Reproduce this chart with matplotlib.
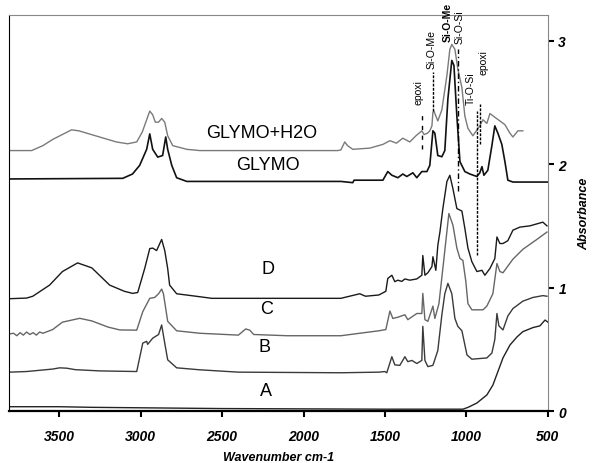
import matplotlib
matplotlib.use('Agg')
import matplotlib.pyplot as plt

plt.rcParams['font.family'] = ['Liberation Sans', 'DejaVu Sans']

# Espectro GLYMO+H2O (numero de onda, absorbancia)
glymo_h2o_x = [3804, 3669, 3600, 3540, 3424, 3380, 3252, 3150, 3080, 3024, 2990, 2944, 2926, 2910,
               2890, 2871, 2852, 2834, 2803, 2717, 2637, 1790, 1771, 1747, 1730, 1698, 1593, 1513,
               1470, 1430, 1391, 1348, 1310, 1274, 1260, 1240, 1225, 1212, 1206, 1200, 1176, 1151,
               1120, 1102, 1090, 1071, 1053, 1028, 1010, 991, 961, 918, 899, 875, 856, 826, 795,
               764, 733, 715, 684, 654]
glymo_h2o_y = [2.11, 2.11, 2.15, 2.20, 2.278, 2.27, 2.22, 2.18, 2.165, 2.18, 2.26, 2.43, 2.40, 2.34,
               2.34, 2.37, 2.34, 2.23, 2.15, 2.12, 2.11, 2.11, 2.115, 2.18, 2.15, 2.12, 2.13, 2.16,
               2.19, 2.17, 2.21, 2.18, 2.23, 2.27, 2.24, 2.25, 2.27, 2.31, 2.42, 2.43, 2.35, 2.44,
               2.72, 2.93, 2.97, 2.93, 2.77, 2.62, 2.39, 2.29, 2.23, 2.31, 2.36, 2.33, 2.41, 2.38, 2.35,
               2.32, 2.25, 2.22, 2.27, 2.27]

# Espectro GLYMO
glymo_x = [3804, 3110, 3050, 3006, 2963, 2944, 2926, 2895, 2865, 2846, 2834, 2809, 2779, 2717,
           1771, 1698, 1690, 1513, 1483, 1458, 1421, 1391, 1366, 1329, 1305, 1274, 1243, 1225,
           1206, 1194, 1176, 1151, 1133, 1114, 1090, 1077, 1059, 1040, 1010, 979, 936, 918, 905,
           893, 869, 844, 826, 807, 783, 764, 746, 715, 500]
glymo_y = [1.88, 1.885, 1.92, 1.99, 2.12, 2.245, 2.12, 2.057, 2.07, 2.22, 2.12, 1.99, 1.89, 1.86,
           1.86, 1.85, 1.87, 1.87, 1.94, 1.91, 1.89, 1.92, 1.90, 1.93, 1.89, 1.94, 1.94, 1.99,
           2.27, 2.25, 2.07, 2.06, 2.11, 2.53, 2.84, 2.80, 2.39, 2.02, 1.94, 1.92, 1.90, 1.93, 1.98,
           1.91, 1.95, 2.15, 2.31, 2.25, 2.16, 2.02, 1.87, 1.855, 1.855]

# Espectro D
d_x = [3804, 3700, 3662, 3559, 3480, 3387, 3300, 3190, 3100, 3049, 3018, 2975, 2944, 2926, 2902,
       2871, 2852, 2834, 2822, 2779, 2637, 2564, 1771, 1655, 1620, 1538, 1495, 1483, 1458, 1440,
       1421, 1397, 1378, 1348, 1305, 1274, 1268, 1255, 1237, 1212, 1206, 1188, 1176, 1163, 1145,
       1120, 1102, 1083, 1059, 1028, 1010, 991, 967, 936, 905, 887, 856, 826, 813, 795, 776, 746,
       715, 672, 611, 531, 506]
d_y = [0.91, 0.915, 0.93, 1.02, 1.13, 1.20, 1.16, 1.02, 0.97, 0.953, 0.96, 1.155, 1.316, 1.32, 1.30,
       1.39, 1.30, 1.155, 1.02, 0.95, 0.926, 0.913, 0.913, 0.95, 0.93, 0.94, 0.97, 1.074, 1.10, 1.048,
       1.06, 1.05, 1.07, 1.06, 1.07, 1.10, 1.26, 1.10, 1.12, 1.17, 1.25, 1.14, 1.34, 1.45, 1.64,
       1.86, 1.91, 1.80, 1.64, 1.62, 1.48, 1.32, 1.21, 1.13, 1.14, 1.10, 1.155, 1.235, 1.41, 1.357,
       1.357, 1.38, 1.465, 1.49, 1.50, 1.53, 1.50]

# Espectro C
c_x = [3804, 3780, 3760, 3740, 3720, 3700, 3680, 3660, 3640, 3620, 3600, 3540, 3480, 3374, 3300,
       3200, 3128, 3024, 2987, 2944, 2914, 2890, 2871, 2860, 2834, 2779, 2637, 2400, 2355, 2330,
       2306, 2100, 1771, 1655, 1538, 1495, 1470, 1452, 1421, 1378, 1360, 1305, 1274, 1268, 1255,
       1237, 1206, 1194, 1169, 1145, 1108, 1083, 1059, 1040, 1022, 1004, 991, 967, 899, 875, 838,
       813, 795, 776, 715, 654, 568, 506]
c_y = [0.625, 0.63, 0.61, 0.635, 0.615, 0.64, 0.62, 0.635, 0.615, 0.64, 0.63, 0.66, 0.72, 0.751, 0.73,
       0.68, 0.657, 0.655, 0.805, 0.913, 0.92, 0.95, 0.988, 0.95, 0.727, 0.65, 0.63, 0.615, 0.665, 0.655,
       0.62, 0.61, 0.61, 0.63, 0.65, 0.66, 0.81, 0.75, 0.76, 0.78, 0.74, 0.79, 0.79, 0.953, 0.74,
       0.727, 0.85, 0.75, 0.87, 1.155, 1.60, 1.505, 1.32, 1.236, 1.22, 1.05, 0.87, 0.82, 0.82, 0.85, 0.95,
       1.195, 1.13, 1.12, 1.23, 1.31, 1.39, 1.45]

# Espectro B
b_x = [3804, 3700, 3540, 3497, 3454, 3400, 3250, 3024, 2987, 2963, 2957, 2926, 2890, 2871, 2852,
       2834, 2779, 2637, 2400, 1771, 1538, 1501, 1489, 1458, 1440, 1409, 1378, 1360, 1335, 1305,
       1274, 1268, 1255, 1237, 1206, 1176, 1151, 1133, 1114, 1090, 1071, 1053, 1028, 997, 967, 875,
       844, 826, 813, 801, 776, 746, 715, 654, 592, 531, 506]
b_y = [0.315, 0.32, 0.34, 0.35, 0.347, 0.335, 0.325, 0.32, 0.55, 0.565, 0.54, 0.59, 0.62, 0.697, 0.55,
       0.415, 0.35, 0.334, 0.315, 0.31, 0.315, 0.32, 0.31, 0.44, 0.374, 0.37, 0.44, 0.40, 0.41, 0.385,
       0.41, 0.686, 0.41, 0.36, 0.37, 0.49, 0.78, 0.95, 1.034, 0.95, 0.75, 0.686, 0.65, 0.455, 0.42, 0.43,
       0.47, 0.58, 0.79, 0.69, 0.657, 0.77, 0.83, 0.89, 0.92, 0.935, 0.93]

# Espectro A
a_x = [3804, 3500, 3300, 2500, 1500, 1022, 990, 936, 875, 838, 807, 776, 733, 690, 654, 592, 549, 518, 500]
a_y = [0.035, 0.035, 0.03, 0.02, 0.015, 0.015, 0.03, 0.065, 0.13, 0.21, 0.32, 0.43, 0.535, 0.60,
       0.643, 0.676, 0.69, 0.737, 0.72]

# Etiquetas de cada espectro
nombres = ['GLYMO+H2O', 'GLYMO', 'D', 'C', 'B', 'A']
nombres_x = [2256, 2219, 2219, 2230, 2240, 2230]
nombres_y = [2.26, 2.0, 1.155, 0.83, 0.525, 0.17]

# Bandas marcadas: posicion, inicio, fin, texto, altura del texto
bandas_x = [1274, 1206, 1053, 936, 918]
bandas_y0 = [2.12, 2.43, 1.78, 1.26, 2.16]
bandas_y1 = [2.43, 2.75, 2.93, 2.43, 2.49]
bandas_txt = ['epoxi', 'Si-O-Me', 'Si-O-Si', 'Ti-O-Si', 'epoxi']
bandas_tx = [1292, 1212, 1040, 973, 893]
bandas_ty = [2.59, 2.94, 3.12, 2.62, 2.83]

fig = plt.figure(figsize=(5.93, 4.64), dpi=100)
ax = fig.add_axes([0.016, 0.112, 0.908, 0.854])

ax.plot(glymo_h2o_x, glymo_h2o_y, color='#7a7a7a', lw=1)
ax.plot(glymo_x, glymo_y, color='#111111', lw=1.2)
ax.plot(d_x, d_y, color='#1a1a1a', lw=1)
ax.plot(c_x, c_y, color='#666666', lw=1)
ax.plot(b_x, b_y, color='#3a3a3a', lw=1)
ax.plot(a_x, a_y, color='#222222', lw=1)

for i in range(len(nombres)):
    ax.text(nombres_x[i], nombres_y[i], nombres[i], fontsize=13, ha='center', va='center')

estilos = [(0, (3, 4)), (0, (2, 1)), (0, (4, 2, 1, 2)), (0, (2, 1)), (0, (2, 1))]
for i in range(len(bandas_x)):
    ax.plot([bandas_x[i], bandas_x[i]], [bandas_y0[i], bandas_y1[i]], color='black',
            lw=1, linestyle=estilos[i])
    ax.text(bandas_tx[i], bandas_ty[i], bandas_txt[i], fontsize=7.5, rotation=90,
            ha='center', va='center', clip_on=False)
# etiqueta Si-O-Me en negrita arriba del pico
ax.text(1114, 3.16, 'Si-O-Me', fontsize=7.5, rotation=90, ha='center', va='center',
        fontweight='bold', clip_on=False)

ax.set_xlim(3805, 500)
ax.set_ylim(0, 3.21)

ax.set_xticks([3500, 3000, 2500, 2000, 1500, 1000, 500])
ax.set_yticks([0, 1, 2, 3])
ax.yaxis.tick_right()
ax.yaxis.set_label_position('right')
ax.tick_params(axis='both', direction='out', length=4, width=1.5, labelsize=10)
ax.tick_params(axis='x', pad=9)
for t in ax.get_xticklabels() + ax.get_yticklabels():
    t.set_fontweight('bold')
    t.set_fontstyle('italic')

ax.set_xlabel('Wavenumber cm-1', fontsize=9, fontweight='bold', style='italic', labelpad=6)
ax.set_ylabel('Absorbance', fontsize=9, fontweight='bold', style='italic')
ax.yaxis.set_label_coords(1.057, 0.5)

ax.spines['top'].set_color('#888888')
ax.spines['right'].set_color('#888888')
ax.spines['left'].set_color('black')
ax.spines['bottom'].set_linewidth(1.6)

fig.savefig('out.png', dpi=100)
